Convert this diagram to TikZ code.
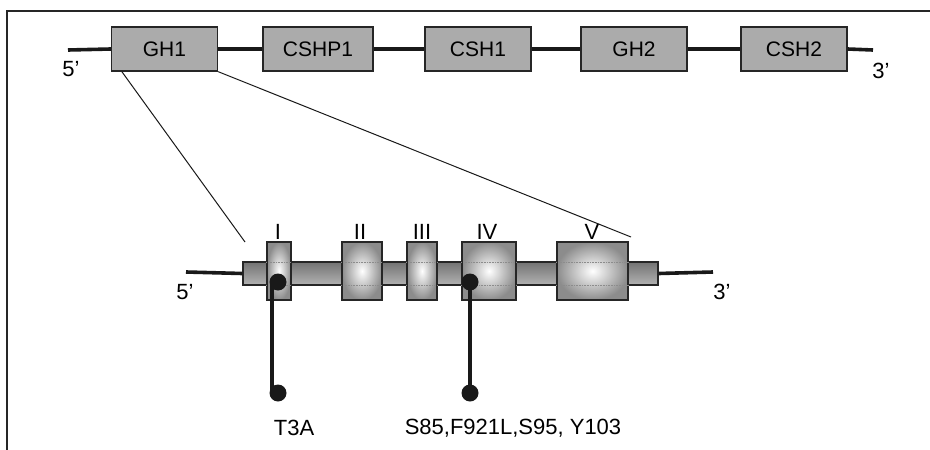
\documentclass[tikz,border=0pt]{standalone}
\usepackage{fontspec}
\setmainfont{Liberation Sans}
\begin{document}
\begin{tikzpicture}[x=1pt,y=-1pt,
  gene/.style={draw=black!85,line width=1.3pt,fill=black!33,minimum height=44pt,minimum width=106pt,inner sep=0pt,font=\fontsize{21}{22}\selectfont},
  strand/.style={line width=3.6pt,black!90},
  zoomline/.style={line width=1pt,black!90},
  exon/.style={draw=black!85,line width=1.3pt,inner color=white,outer color=black!45,minimum height=58pt,inner sep=0pt},
  bar/.style={draw=black!85,line width=1.3pt,top color=black!55,middle color=black!10,bottom color=black!30,minimum height=23pt,minimum width=415pt,inner sep=0pt},
  dot/.style={circle,fill=black!90,minimum size=17pt,inner sep=0pt},
  lbl/.style={font=\fontsize{22}{24}\selectfont,inner sep=0pt},
  faint/.style={densely dotted,black!45,line width=0.6pt}
]
\useasboundingbox (0,0) rectangle (930,450);
% frame
\draw[line width=1.4pt,black!85] (7,450) -- (7,11) -- (930,11);

% top gene cluster
\coordinate (t5) at (68,50);
\coordinate (t3) at (873,50);
\node[gene] (gh1) at (164.5,49) {GH1};
\node[gene,minimum width=110pt] (cshp1) at (318,49) {CSHP1};
\node[gene] (csh1) at (478,49) {CSH1};
\node[gene] (gh2) at (634,49) {GH2};
\node[gene] (csh2) at (794,49) {CSH2};
\draw[strand] (t5) -- (gh1.west);
\draw[strand] (gh1.east) -- (cshp1.west);
\draw[strand] (cshp1.east) -- (csh1.west);
\draw[strand] (csh1.east) -- (gh2.west);
\draw[strand] (gh2.east) -- (csh2.west);
\draw[strand] (csh2.east) -- (t3);
\node[lbl] (l5top) at (71,69) {5’};
\node[lbl] (l3top) at (881,71) {3’};

% lower gene structure
\coordinate (b5) at (186,272);
\coordinate (b3) at (713,272);
\node[bar] (bar) at (450.5,273.5) {};
\draw[strand] (b5) -- (bar.west);
\draw[strand] (bar.east) -- (b3);

\node[exon,minimum width=24pt] (e1) at (279,271) {};
\node[exon,minimum width=40pt] (e2) at (362,271) {};
\node[exon,minimum width=30pt] (e3) at (422,271) {};
\node[exon,minimum width=54pt] (e4) at (489,271) {};
\node[exon,minimum width=71pt] (e5) at (592.5,271) {};
\foreach \e in {e1,e2,e3,e4,e5}{
  \draw[faint] (\e.west |- 0,262) -- (\e.east |- 0,262);
  \draw[faint] (\e.west |- 0,285) -- (\e.east |- 0,285);
}

\node[lbl] (r1) at (278,232) {I};
\node[lbl] (r2) at (360,232) {II};
\node[lbl] (r3) at (422,232) {III};
\node[lbl] (r4) at (487,232) {IV};
\node[lbl] (r5) at (592,232) {V};

\node[lbl] (l5bot) at (185,292) {5’};
\node[lbl] (l3bot) at (722,292) {3’};

% zoom lines
\coordinate (z1) at (245,242);
\coordinate (z2) at (631,237);
\draw[zoomline] ([xshift=11pt]gh1.south west) -- (z1);
\draw[zoomline] (gh1.south east) -- (z2);

% mutation markers
\node[dot] (d1a) at (278,282) {};
\node[dot] (d1b) at (278,393) {};
\node[dot] (d4a) at (470,282) {};
\node[dot] (d4b) at (470,393) {};
\draw[line width=3.2pt,black!90] ([xshift=-6pt]d1a.center) -- ([xshift=-6pt]d1b.center);
\draw[line width=3.2pt,black!90] (d4a.center) -- (d4b.center);

\node[lbl] (m1) at (294,428) {T3A};
\node[lbl] (m4) at (513,428) {S85,F921L,S95, Y103};
\end{tikzpicture}
\end{document}
